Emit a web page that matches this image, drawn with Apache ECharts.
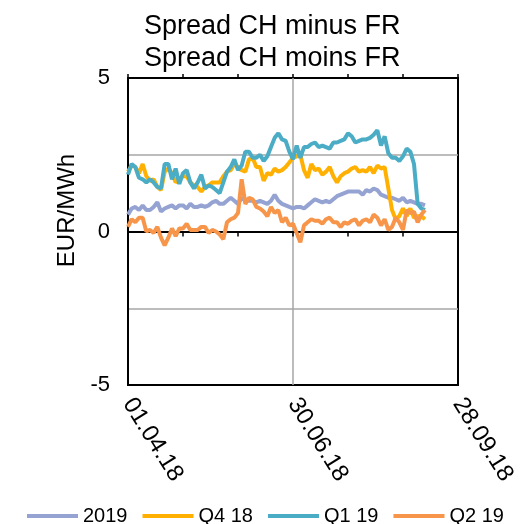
<!DOCTYPE html>
<html>
<head>
<meta charset="utf-8">
<title>Spread CH minus FR</title>
<script src="https://cdn.jsdelivr.net/npm/echarts@6/dist/echarts.min.js"></script>
<style>
html, body { margin: 0; padding: 0; background: #fff; }
#main { width: 520px; height: 524px; }
</style>
</head>
<body>
<div id="main"></div>
<script type="text/javascript">
// data: one point every 2 days starting 01.04.18
var seriesNames = ['2019', 'Q4 18', 'Q1 19', 'Q2 19'];
var xTickLabels = { 0: '01.04.18', 90: '30.06.18', 180: '28.09.18' };

var y2019 = [0.55,0.75,0.8,0.7,0.85,0.7,0.7,0.8,0.95,0.65,0.75,0.8,0.85,0.75,0.85,0.85,0.75,0.9,0.8,0.8,
  0.85,0.8,0.85,0.95,1.0,0.9,0.9,1.0,1.1,1.0,0.9,1.1,1.0,1.0,1.0,0.95,1.0,0.95,0.9,1.0,
  1.2,1.0,0.9,0.85,0.8,0.75,0.8,0.8,0.75,0.85,0.95,1.05,1.0,0.95,1.0,0.95,1.05,1.15,1.2,1.25,
  1.3,1.3,1.3,1.3,1.2,1.35,1.3,1.4,1.35,1.2,1.15,1.1,1.1,1.05,1.0,1.1,0.95,1.0,0.95,0.9,
  0.9,0.85];
var yQ418 = [1.95,2.15,2.1,1.9,2.2,1.8,1.65,1.7,1.45,1.35,1.95,2.05,1.9,1.6,1.7,1.8,1.8,1.6,1.5,1.45,
  1.3,1.45,1.5,1.6,1.6,1.6,1.8,1.95,2.0,2.2,2.1,2.0,1.95,2.35,2.4,2.1,2.1,1.65,1.9,1.85,
  2.05,1.95,2.0,2.1,2.25,2.4,2.45,2.5,2.0,1.75,2.2,2.0,2.05,1.85,1.95,2.1,1.8,1.6,1.8,1.9,
  1.95,2.05,2.1,1.95,2.0,1.95,2.1,1.9,2.15,2.05,2.1,1.4,0.7,0.4,0.5,0.75,0.5,0.75,0.45,0.5,
  0.5,0.4];
var yQ119 = [1.85,2.2,2.1,1.75,1.7,1.6,1.7,1.6,1.45,1.4,2.2,2.2,1.7,2.05,1.55,1.9,2.0,1.6,1.4,1.6,
  1.85,1.4,1.5,1.45,1.35,1.25,1.6,1.95,2.1,2.35,2.0,2.15,2.6,2.6,2.4,2.4,2.5,2.3,2.45,2.75,
  3.05,3.2,3.0,2.95,2.6,2.35,2.8,2.4,2.75,2.75,2.85,2.9,2.75,2.8,2.75,2.7,2.9,2.9,2.95,3.0,
  3.2,3.1,2.9,2.95,3.0,3.0,3.05,3.15,3.3,2.8,3.1,2.55,2.4,2.4,2.3,2.45,2.7,2.6,2.2,0.9,
  0.75,0.7];
var yQ219 = [0.15,0.4,0.3,0.45,0.45,0.0,0.05,-0.05,0.15,-0.2,-0.45,-0.2,0.1,-0.15,0.1,0.1,0.25,0.05,0.05,0.05,
  0.15,0.15,-0.05,0.05,0.0,-0.1,-0.25,0.3,0.4,0.45,0.6,1.7,0.9,1.1,1.05,0.8,0.75,0.65,0.5,0.8,
  0.6,0.7,0.3,0.45,0.2,0.25,-0.05,-0.35,0.2,0.3,0.4,0.35,0.35,0.25,0.4,0.45,0.3,0.3,0.15,0.3,
  0.25,0.35,0.4,0.2,0.35,0.4,0.3,0.55,0.45,0.2,0.4,0.05,0.15,0.45,0.3,0.05,0.7,0.6,0.65,0.3,
  0.55,0.7];

var colors = ['#95A3D3', '#FFB000', '#4BACC6', '#F7964A'];
var font = 'Liberation Sans, Arial, sans-serif';

function pairs(vals) {
	var out = [];
	for (var i = 0; i < vals.length; i++) {
		out.push([i * 2, vals[i]]);
	}
	return out;
}

var allVals = [y2019, yQ418, yQ119, yQ219];
var series = [];
for (var s = 0; s < seriesNames.length; s++) {
	series.push({
		name: seriesNames[s],
		type: 'line',
		xAxisIndex: 0,
		symbol: 'none',
		lineStyle: { width: 4, color: colors[s] },
		itemStyle: { color: colors[s] },
		data: pairs(allVals[s])
	});
}

var myChart = echarts.init(document.getElementById('main'));
var option = {
	animation: false,
	title: {
		text: 'Spread CH minus FR\nSpread CH moins FR',
		left: 139,
		top: 6,
		textStyle: { fontSize: 27, fontWeight: 'normal', color: '#000', lineHeight: 32, fontFamily: font }
	},
	legend: {
		data: seriesNames,
		left: 22,
		top: 501,
		icon: 'rect',
		itemWidth: 51,
		itemHeight: 4,
		itemGap: 15,
		textStyle: { fontSize: 20, color: '#000', fontFamily: font }
	},
	grid: {
		left: 128, right: 62, top: 78, bottom: 139,
		show: true, borderColor: '#000', borderWidth: 2
	},
	xAxis: [
		{
			type: 'value', min: 0, max: 180, interval: 90,
			position: 'bottom',
			axisLine: { onZero: false, show: false },
			axisTick: { show: false },
			splitLine: { show: true, showMinLine: false, showMaxLine: false, lineStyle: { color: '#A6A6A6', width: 1.5 } },
			axisLabel: {
				rotate: -58, margin: 15, fontSize: 24, color: '#000', fontFamily: font,
				formatter: function (v) { return xTickLabels[v] || ''; }
			}
		},
		{
			type: 'value', min: 0, max: 180, interval: 90,
			position: 'bottom',
			axisLine: { onZero: true, show: true, lineStyle: { color: '#000', width: 2 } },
			axisTick: { show: true, length: 5, lineStyle: { color: '#000', width: 1.5 } },
			minorTick: { show: true, splitNumber: 3, length: 5, lineStyle: { color: '#000', width: 1.5 } },
			splitLine: { show: false },
			axisLabel: { show: false }
		},
		{
			type: 'value', min: 0, max: 180, interval: 90,
			position: 'top',
			axisLine: { onZero: true, show: false },
			axisTick: { show: true, length: 4, lineStyle: { color: '#000', width: 1.5 } },
			minorTick: { show: true, splitNumber: 3, length: 4, lineStyle: { color: '#000', width: 1.5 } },
			splitLine: { show: false },
			axisLabel: { show: false }
		}
	],
	yAxis: {
		type: 'value', min: -5, max: 5, interval: 2.5,
		name: 'EUR/MWh',
		nameLocation: 'middle',
		nameGap: 42,
		nameTextStyle: { fontSize: 24, color: '#000', fontFamily: font, padding: [0, 0, 0, 42] },
		axisLine: { show: true, onZero: false, lineStyle: { color: '#000', width: 2 } },
		axisTick: { show: false },
		splitLine: { show: true, showMinLine: false, showMaxLine: false, lineStyle: { color: '#A6A6A6', width: 1.5 } },
		axisLabel: {
			fontSize: 22, color: '#000', margin: 18, fontFamily: font,
			formatter: function (v) { return v % 5 === 0 ? String(v) : ''; }
		}
	},
	series: series
};
myChart.setOption(option);
</script>
</body>
</html>
